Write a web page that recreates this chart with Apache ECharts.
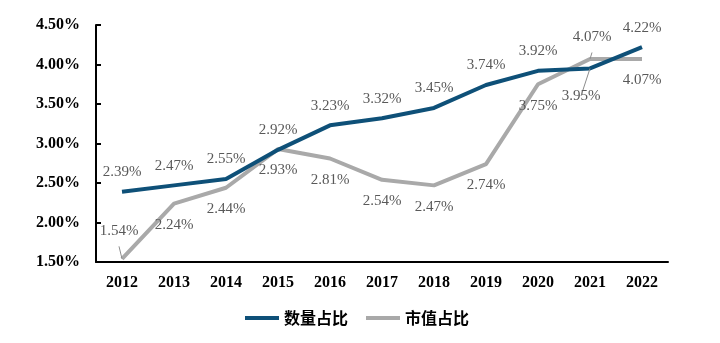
<!DOCTYPE html>
<html>
<head>
<meta charset="utf-8">
<script src="https://cdn.jsdelivr.net/npm/echarts@6/dist/echarts.min.js"></script>
<style>
  html, body { margin: 0; padding: 0; background: #fff; }
  #chart { width: 720px; height: 343px; }
</style>
</head>
<body>
<div id="chart"></div>
<script>
// Years on the category axis
const years = ['2012', '2013', '2014', '2015', '2016', '2017', '2018', '2019', '2020', '2021', '2022'];
// Share by count (%)
const countShare = [2.39, 2.47, 2.55, 2.92, 3.23, 3.32, 3.45, 3.74, 3.92, 3.95, 4.22];
// Share by market value (%)
const valueShare = [1.54, 2.24, 2.44, 2.93, 2.81, 2.54, 2.47, 2.74, 3.75, 4.07, 4.07];
// Y-axis range and step (%)
const yMin = 1.5, yMax = 4.5, yStep = 0.5;

const serif = "'Liberation Serif', 'Times New Roman', serif";
const labelColor = '#595959';
const guide = { show: true, lineStyle: { color: '#8c8c8c', width: 1 } };

function fmt(v) { return Number(v).toFixed(2) + '%'; }

// Per-point label overrides for crowded spots
const countData = countShare.map((v, i) => {
  if (i === 9) {
    return { value: v, label: { position: 'bottom', distance: 20, offset: [-9, 0] }, labelLine: guide };
  }
  return v;
});
const valueData = valueShare.map((v, i) => {
  if (i === 0) {
    return { value: v, label: { position: 'top', distance: 20, offset: [-3, 0] }, labelLine: guide };
  }
  if (i === 9) {
    return { value: v, label: { position: 'top', distance: 14, offset: [2, 0] }, labelLine: guide };
  }
  return v;
});

const chart = echarts.init(document.getElementById('chart'));
chart.setOption({
  animation: false,
  grid: { left: 96, right: 52, top: 25, bottom: 81 },
  xAxis: {
    type: 'category',
    data: years,
    boundaryGap: true,
    axisLine: { lineStyle: { color: '#000', width: 2 } },
    axisTick: { inside: true, length: 5, lineStyle: { color: '#000', width: 2 } },
    axisLabel: { color: '#000', fontFamily: serif, fontWeight: 'bold', fontSize: 16, margin: 13 },
    splitLine: { show: false }
  },
  yAxis: {
    type: 'value',
    min: yMin,
    max: yMax,
    interval: yStep,
    axisLine: { show: true, lineStyle: { color: '#000', width: 2 } },
    axisTick: { show: true, inside: true, length: 5, lineStyle: { color: '#000', width: 2 } },
    axisLabel: { color: '#000', fontFamily: serif, fontWeight: 'bold', fontSize: 16, margin: 16, formatter: fmt },
    splitLine: { show: false }
  },
  legend: {
    left: 240,
    top: 305,
    icon: 'rect',
    itemWidth: 34,
    itemHeight: 4,
    itemGap: 18,
    textStyle: { color: '#000', fontFamily: "'Noto Sans CJK SC', sans-serif", fontWeight: 'bold', fontSize: 16 },
    data: ['数量占比', '市值占比']
  },
  series: [
    {
      name: '数量占比',
      type: 'line',
      data: countData,
      symbol: 'circle',
      symbolSize: 0,
      lineStyle: { color: '#0E5078', width: 4 },
      itemStyle: { color: '#0E5078' },
      label: { show: true, position: 'top', distance: 12, color: labelColor, fontFamily: serif, fontSize: 15, formatter: p => fmt(p.value) },
      z: 3
    },
    {
      name: '市值占比',
      type: 'line',
      data: valueData,
      symbol: 'circle',
      symbolSize: 0,
      lineStyle: { color: '#A9A9A9', width: 4 },
      itemStyle: { color: '#A9A9A9' },
      label: { show: true, position: 'bottom', distance: 14, color: labelColor, fontFamily: serif, fontSize: 15, formatter: p => fmt(p.value) },
      z: 2
    }
  ]
});
</script>
</body>
</html>
